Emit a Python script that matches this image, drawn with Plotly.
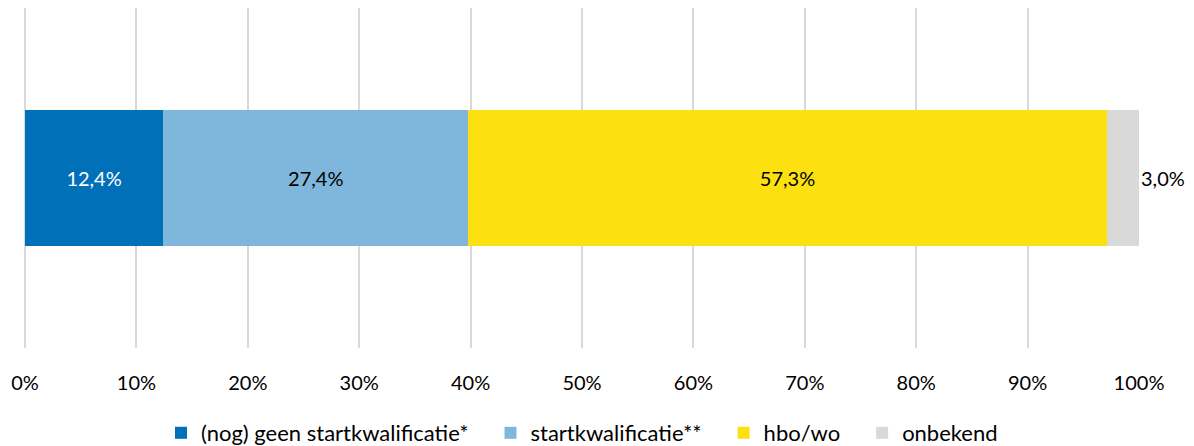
import plotly.graph_objects as go

categories = ["(nog) geen startkwalificatie*", "startkwalificatie**", "hbo/wo", "onbekend"]
values = [12.4, 27.4, 57.3, 3.0]
colors = ["#0070B9", "#7FB6DC", "#FDE010", "#D9D9D9"]
text_colors = ["white", "black", "black", "black"]
tick_vals = [0, 10, 20, 30, 40, 50, 60, 70, 80, 90, 100]
tick_text = [f"{v}%" for v in tick_vals]


def pct(v):
    return f"{v:.1f}%".replace(".", ",")


fig = go.Figure()
for name, val, col, tcol in zip(categories, values, colors, text_colors):
    last = name == categories[-1]
    fig.add_bar(
        name=name + ("" if last else "\u00a0\u00a0\u00a0"),
        x=[val], y=["totaal"], orientation="h",
        marker=dict(color=col, line=dict(width=0)),
        text=[None if last else pct(val)],
        textposition="inside",
        insidetextanchor="middle",
        textfont=dict(color=tcol, size=20),
    )

# small last segment: label sits just right of the bar end (rounded total ~100%)
fig.add_annotation(
    x=min(sum(values), 100), y=0.5, xref="x", yref="paper", text=pct(values[-1]),
    showarrow=False, xanchor="left", yanchor="middle",
    font=dict(size=20, color="black"),
)

fig.update_layout(
    barmode="stack",
    bargap=0.6,
    width=1194, height=446,
    margin=dict(l=25, r=55, t=8, b=98, autoexpand=False),
    plot_bgcolor="white",
    paper_bgcolor="white",
    font=dict(family="Lato, Open Sans, sans-serif", size=20, color="#000"),
    legend=dict(orientation="h", x=0.5, xanchor="center", y=-0.25, yanchor="middle",
                font=dict(size=22), traceorder="normal", itemwidth=30),
    showlegend=True,
)
fig.update_xaxes(
    range=[0, 100], tickvals=tick_vals, ticktext=tick_text,
    showgrid=True, gridcolor="#D9D9D9", gridwidth=1.5,
    zeroline=True, zerolinecolor="#D9D9D9", zerolinewidth=1.5,
    ticks="outside", ticklen=17, tickcolor="rgba(0,0,0,0)",
    showline=False, automargin=False,
)
fig.update_yaxes(showticklabels=False, showgrid=False, zeroline=False)

fig.write_html("out.html", config={"displayModeBar": False},
               post_script="document.body.style.margin='0';")
